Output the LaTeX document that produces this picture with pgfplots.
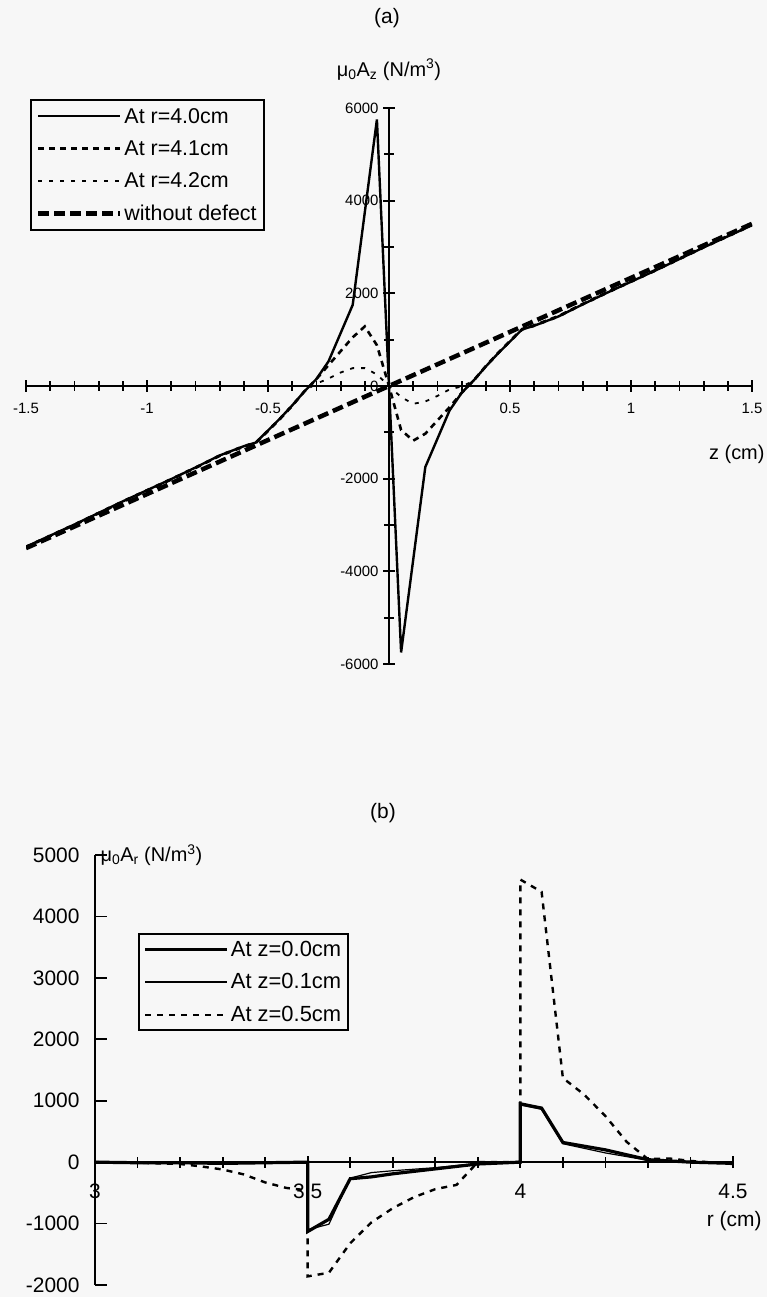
\documentclass[border=0pt]{standalone}
\usepackage{pgfplots}
\pgfplotsset{compat=1.18}
\usepackage{fontspec}
\setmainfont{Liberation Sans}
\definecolor{bg}{RGB}{247,247,247}
\begin{document}
\begin{tikzpicture}[x=1bp,y=1bp]
\useasboundingbox (0,0) rectangle (767,1297);
\fill[bg] (0,0) rectangle (767,1297);
\node[font=\fontsize{21}{24}\selectfont] at (387,1279) {(a)};
\node[font=\fontsize{21}{24}\selectfont] at (383,484) {(b)};

\begin{axis}[
  at={(26bp,633bp)}, anchor=south west,
  scale only axis, width=726bp, height=556bp,
  xmin=-1.5, xmax=1.5, ymin=-6000, ymax=6000,
  axis lines=middle,
  axis line style={-, line width=2.2bp},
  enlargelimits=false,
  hide obscured x ticks=false, hide obscured y ticks=false,
  xtick={-1.5,-1,-0.5,0.5,1,1.5},
  minor xtick={-1.4,-1.3,-1.2,-1.1,-0.9,-0.8,-0.7,-0.6,-0.4,-0.3,-0.2,-0.1,0.1,0.2,0.3,0.4,0.6,0.7,0.8,0.9,1.1,1.2,1.3,1.4},
  ytick={-6000,-4000,-2000,0,2000,4000,6000},
  minor ytick={-5000,-3000,-1000,1000,3000,5000},
  tick align=center,
  major tick length=12bp, minor tick length=10bp,
  every tick/.style={line width=1.8bp, black},
  scaled ticks=false,
  /pgf/number format/1000 sep={},
  /pgf/number format/assume math mode=true,
  ticklabel style={font=\fontsize{15}{15}\selectfont},
  xticklabel style={yshift=-8bp},
  yticklabel style={xshift=-1bp},
  xlabel={z (cm)},
  xlabel style={at={(axis cs:1.5,0)}, anchor=north east, xshift=16bp, yshift=-56bp, font=\fontsize{20}{20}\selectfont},
  ylabel={μ\textsubscript{0}A\textsubscript{z} (N/m\textsuperscript{3})},
  ylabel style={at={(axis cs:0,6000)}, anchor=south, yshift=24bp, font=\fontsize{20}{20}\selectfont},
  legend style={at={(0.0055,1.016)}, anchor=north west, draw=black, line width=2bp, fill=none,
    font=\fontsize{21.5}{21.5}\selectfont, inner xsep=5bp, inner ysep=6bp, row sep=12bp,
    cells={anchor=west}},
  legend image code/.code={\draw[#1] (0bp,0bp) -- (82bp,0bp);},
]
\addplot[black, line width=2.4bp] coordinates {
(-1.5,-3470) (-1.4,-3230) (-1.3,-2990) (-1.2,-2740) (-1.1,-2490) (-1.0,-2250) (-0.9,-2010) (-0.8,-1760) (-0.7,-1500) (-0.6,-1300) (-0.55,-1220) (-0.45,-700) (-0.4,-420) (-0.35,-120) (-0.3,150) (-0.25,530) (-0.15,1750) (-0.05,5750) (0,0) (0.05,-5750) (0.15,-1750) (0.25,-530) (0.3,-150) (0.35,120) (0.4,420) (0.45,700) (0.55,1220) (0.6,1300) (0.7,1500) (0.8,1760) (0.9,2010) (1.0,2250) (1.1,2490) (1.2,2740) (1.3,2990) (1.4,3230) (1.5,3470)
};
\addlegendentry{At r=4.0cm}
\addplot[black, line width=2.6bp, dash pattern=on 6bp off 5bp] coordinates {
(-1.5,-3480) (-1.4,-3240) (-1.3,-3000) (-1.2,-2750) (-1.1,-2500) (-1.0,-2260) (-0.9,-2020) (-0.8,-1770) (-0.7,-1510) (-0.6,-1310) (-0.55,-1230) (-0.45,-710) (-0.4,-430) (-0.35,-120) (-0.3,150) (-0.25,450) (-0.2,750) (-0.15,1050) (-0.1,1285) (-0.05,880) (0,0) (0.05,-950) (0.1,-1180) (0.15,-1030) (0.2,-745) (0.25,-460) (0.3,-150) (0.35,120) (0.4,430) (0.45,710) (0.55,1230) (0.6,1310) (0.7,1510) (0.8,1770) (0.9,2020) (1.0,2260) (1.1,2500) (1.2,2750) (1.3,3000) (1.4,3240) (1.5,3480)
};
\addlegendentry{At r=4.1cm}
\addplot[black, line width=1.8bp, dash pattern=on 4bp off 7bp] coordinates {
(-1.5,-3460) (-1.4,-3220) (-1.3,-2980) (-1.2,-2730) (-1.1,-2480) (-1.0,-2240) (-0.9,-2000) (-0.8,-1750) (-0.7,-1490) (-0.6,-1290) (-0.55,-1210) (-0.45,-690) (-0.4,-410) (-0.35,-110) (-0.3,50) (-0.25,160) (-0.2,290) (-0.15,385) (-0.1,385) (-0.05,250) (0,0) (0.05,-240) (0.1,-385) (0.15,-335) (0.2,-215) (0.25,-75) (0.3,-10) (0.35,110) (0.4,410) (0.45,690) (0.55,1210) (0.6,1290) (0.7,1490) (0.8,1750) (0.9,2000) (1.0,2240) (1.1,2480) (1.2,2730) (1.3,2980) (1.4,3220) (1.5,3460)
};
\addlegendentry{At r=4.2cm}
\addplot[black, line width=4.5bp, dash pattern=on 11bp off 5bp] coordinates {
(-1.5,-3500) (0,0) (1.5,3500)
};
\addlegendentry{without defect}
\end{axis}

\begin{axis}[
  at={(95bp,12bp)}, anchor=south west,
  scale only axis, width=638bp, height=430bp,
  xmin=3, xmax=4.5, ymin=-2000, ymax=5000,
  axis x line=middle, axis y line=left,
  axis line style={-, line width=2.4bp},
  enlargelimits=false,
  hide obscured x ticks=false, hide obscured y ticks=false,
  xtick={3,3.5,4,4.5},
  minor xtick={3.1,3.2,3.3,3.4,3.6,3.7,3.8,3.9,4.1,4.2,4.3,4.4},
  ytick={-2000,-1000,0,1000,2000,3000,4000,5000},
  tick align=center,
  major tick length=12bp, minor tick length=11bp,
  every tick/.style={line width=1.8bp, black},
  ytick style={xshift=6bp},
  scaled ticks=false,
  /pgf/number format/1000 sep={},
  /pgf/number format/assume math mode=true,
  ticklabel style={font=\fontsize{21}{21}\selectfont},
  xticklabel style={yshift=-12bp},
  yticklabel style={xshift=-6bp},
  xlabel={r (cm)},
  xlabel style={at={(axis cs:4.5,0)}, anchor=north east, xshift=32bp, yshift=-46bp, font=\fontsize{21}{21}\selectfont},
  every axis y label/.style={at={(axis description cs:0,1)}, anchor=west, xshift=2bp, font=\fontsize{20}{20}\selectfont},
  ylabel={μ\textsubscript{0}A\textsubscript{r} (N/m\textsuperscript{3})},
  legend style={at={(0.067,0.819)}, anchor=north west, draw=black, line width=2bp, fill=none,
    font=\fontsize{22}{22}\selectfont, inner xsep=5bp, inner ysep=5bp, row sep=12bp,
    cells={anchor=west}},
  legend image code/.code={\draw[#1] (0bp,0bp) -- (82bp,0bp);},
]
\addplot[black, line width=3.2bp] coordinates {
(3.0,0) (3.1,-10) (3.2,-10) (3.3,-20) (3.4,-10) (3.5,0) (3.5,-1130) (3.55,-930) (3.6,-270) (3.65,-240) (3.7,-190) (3.8,-110) (3.9,-30) (4.0,0) (4.0,950) (4.05,880) (4.1,320) (4.2,200) (4.3,40) (4.4,0) (4.5,-20)
};
\addlegendentry{At z=0.0cm}
\addplot[black, line width=1.2bp] coordinates {
(3.0,0) (3.1,0) (3.2,-10) (3.3,-10) (3.4,0) (3.5,0) (3.5,-1100) (3.55,-1010) (3.6,-260) (3.65,-170) (3.7,-140) (3.8,-90) (3.9,-20) (4.0,0) (4.0,930) (4.05,860) (4.1,300) (4.2,150) (4.3,30) (4.4,10) (4.5,-10)
};
\addlegendentry{At z=0.1cm}
\addplot[black, line width=2.4bp, dash pattern=on 6bp off 6bp] coordinates {
(3.0,0) (3.1,-10) (3.2,-30) (3.25,-70) (3.3,-120) (3.35,-200) (3.4,-330) (3.45,-420) (3.5,-460) (3.5,-1860) (3.55,-1800) (3.6,-1320) (3.65,-980) (3.7,-750) (3.75,-570) (3.8,-440) (3.85,-370) (3.9,0) (4.0,0) (4.0,4600) (4.05,4400) (4.1,1370) (4.15,1100) (4.2,750) (4.25,330) (4.3,50) (4.35,60) (4.4,20) (4.5,-30)
};
\addlegendentry{At z=0.5cm}
\end{axis}
\end{tikzpicture}
\end{document}
